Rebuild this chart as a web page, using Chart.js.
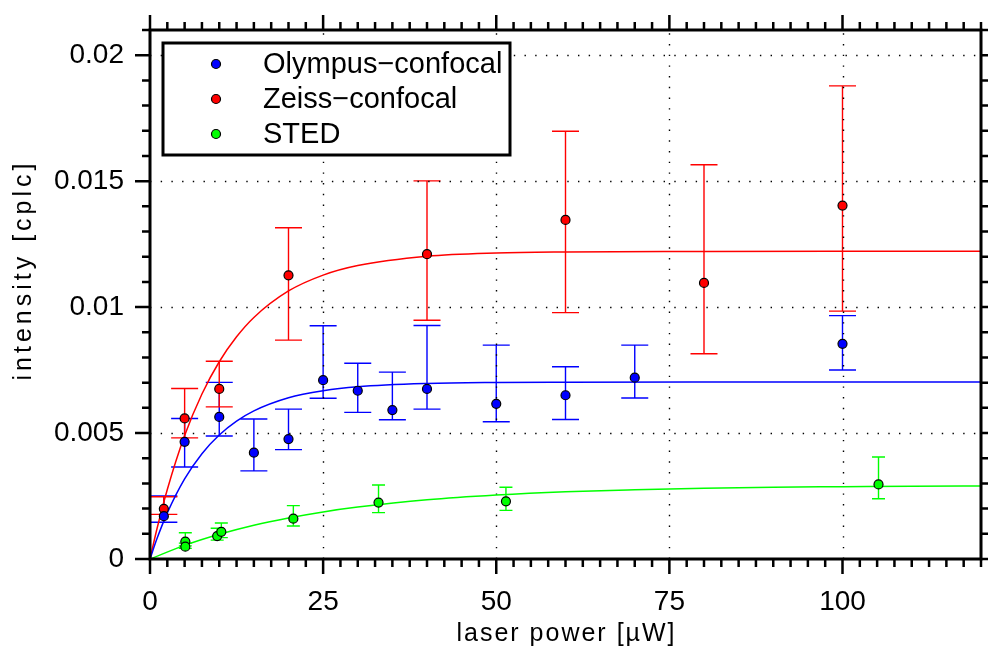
<!DOCTYPE html>
<html>
<head>
<meta charset="utf-8">
<script src="https://cdn.jsdelivr.net/npm/chart.js@4"></script>
<style>
  html, body { margin: 0; padding: 0; background: #fff; }
  #wrap { width: 988px; height: 648px; }
</style>
</head>
<body>
<div id="wrap"><canvas id="powerChart" width="988" height="648"></canvas></div>
<script>
// values
const olympusX  = [2, 5, 10, 15, 20, 25, 30, 35, 40, 50, 60, 70, 100];
const olympusY  = [0.0017, 0.00465, 0.00564, 0.00422, 0.00476, 0.0071, 0.00668, 0.00591, 0.00675, 0.00616, 0.0065, 0.0072, 0.00854];
const olympusHi = [0.0025, 0.00558, 0.00701, 0.00556, 0.00595, 0.00926, 0.00777, 0.00742, 0.00927, 0.00849, 0.00763, 0.00849, 0.00966];
const olympusLo = [0.00146, 0.00365, 0.00488, 0.0035, 0.00434, 0.00638, 0.00582, 0.00553, 0.00595, 0.00545, 0.00554, 0.00639, 0.0075];

const zeissX  = [2, 5, 10, 20, 40, 60, 80, 100];
const zeissY  = [0.00199, 0.00558, 0.00675, 0.01126, 0.0121, 0.01346, 0.01096, 0.01403];
const zeissHi = [0.00247, 0.00677, 0.00785, 0.01315, 0.01501, 0.01698, 0.01565, 0.01878];
const zeissLo = [0.00177, 0.00481, 0.00604, 0.00869, 0.00948, 0.00978, 0.00815, 0.00984];

const stedX  = [5.1, 5.1, 9.7, 10.3, 20.7, 33, 51.4, 105.2];
const stedY  = [0.00069, 0.00049, 0.00091, 0.00108, 0.0016, 0.00224, 0.00229, 0.00296];
const stedHi = [0.00104, 0.00063, 0.00122, 0.00143, 0.00212, 0.00294, 0.00285, 0.00405];
const stedLo = [0.00052, 0.00042, 0.00075, 0.00085, 0.00131, 0.00184, 0.00193, 0.00239];

// saturation fit curves
const olympusFitX = [0, 1, 2.5, 5, 7.5, 10, 12.5, 15, 20, 25, 30, 40, 50, 60, 80, 100, 120];
const olympusFitY = [0, 0.0008, 0.00183, 0.00318, 0.00418, 0.00492, 0.00547, 0.00588, 0.0064, 0.00668, 0.00684, 0.00697, 0.00701, 0.00702, 0.00703, 0.00703, 0.00703];
const zeissFitX = [0, 1, 2.5, 5, 7.5, 10, 12.5, 15, 20, 25, 30, 40, 50, 60, 80, 100, 120];
const zeissFitY = [0, 0.00119, 0.00276, 0.0049, 0.00655, 0.00783, 0.00882, 0.00959, 0.01064, 0.01127, 0.01165, 0.01202, 0.01215, 0.01219, 0.01221, 0.01222, 0.01222];
const stedFitX = [0, 5, 10, 15, 20, 25, 30, 40, 50, 60, 70, 80, 90, 100, 110, 120];
const stedFitY = [0, 0.00054, 0.00098, 0.00134, 0.00163, 0.00187, 0.00206, 0.00235, 0.00254, 0.00267, 0.00275, 0.00281, 0.00285, 0.00287, 0.00289, 0.0029];

const xTicks = [0, 25, 50, 75, 100];
const yTicks = [0, 0.005, 0.01, 0.015, 0.02];
const yTickLabels = ['0', '0.005', '0.01', '0.015', '0.02'];

const xTitle = 'laser power [\u00b5W]';
const yTitle = 'intensity [cplc]';
const seriesNames = ['Olympus\u2212confocal', 'Zeiss\u2212confocal', 'STED'];
const seriesColors = ['#0000ff', '#ff0000', '#00ff00'];

const FONT = "'Liberation Sans', Arial, sans-serif";

function pts(xs, ys) {
    return xs.map((x, i) => ({ x: x, y: ys[i] }));
}

/**
 * Error bars, drawn under the markers
 */
const errorBars = {
    id: 'errorBars',
    beforeDatasetsDraw(chart) {
        const ctx = chart.ctx;
        const xs = chart.scales.x, ys = chart.scales.y;
        const groups = [
            { x: olympusX, hi: olympusHi, lo: olympusLo, color: seriesColors[0], cap: 13.5 },
            { x: zeissX, hi: zeissHi, lo: zeissLo, color: seriesColors[1], cap: 13.5 },
            { x: stedX, hi: stedHi, lo: stedLo, color: seriesColors[2], cap: 6.5 }
        ];
        ctx.save();
        groups.forEach(g => {
            ctx.strokeStyle = g.color;
            ctx.lineWidth = 1.4;
            g.x.forEach((xv, i) => {
                const px = xs.getPixelForValue(xv);
                const top = ys.getPixelForValue(g.hi[i]);
                const bot = ys.getPixelForValue(g.lo[i]);
                ctx.beginPath();
                ctx.moveTo(px, top); ctx.lineTo(px, bot);
                ctx.moveTo(px - g.cap, top); ctx.lineTo(px + g.cap, top);
                ctx.moveTo(px - g.cap, bot); ctx.lineTo(px + g.cap, bot);
                ctx.stroke();
            });
        });
        ctx.restore();
    }
};

/**
 * Dotted grid, heavy frame with ticks on all four sides,
 * spaced-out axis titles and the boxed legend
 */
const frameAndLegend = {
    id: 'frameAndLegend',
    beforeDatasetsDraw(chart) {
        const ctx = chart.ctx;
        const a = chart.chartArea;
        const xs = chart.scales.x, ys = chart.scales.y;
        ctx.save();
        ctx.strokeStyle = '#000';
        ctx.lineWidth = 1.4;
        ctx.setLineDash([1.4, 9.3]);
        xTicks.forEach(v => {
            if (v === 0) return;
            const px = Math.round(xs.getPixelForValue(v)) + 0.5;
            ctx.beginPath(); ctx.moveTo(px, a.bottom); ctx.lineTo(px, a.top); ctx.stroke();
        });
        yTicks.forEach(v => {
            if (v === 0) return;
            const py = Math.round(ys.getPixelForValue(v)) + 0.5;
            ctx.beginPath(); ctx.moveTo(a.left, py); ctx.lineTo(a.right, py); ctx.stroke();
        });
        ctx.restore();
    },
    afterDraw(chart) {
        const ctx = chart.ctx;
        const a = chart.chartArea;
        const xs = chart.scales.x, ys = chart.scales.y;
        ctx.save();
        ctx.strokeStyle = '#000';

        // ticks
        ctx.lineWidth = 2.5;
        for (let k = 0; k <= 48; k++) {
            const px = xs.getPixelForValue(k * 2.5);
            const len = (k % 10 === 0) ? 15 : 8;
            ctx.beginPath();
            ctx.moveTo(px, a.bottom); ctx.lineTo(px, a.bottom + len);
            ctx.moveTo(px, a.top); ctx.lineTo(px, a.top - len);
            ctx.stroke();
        }
        for (let k = 0; k <= 21; k++) {
            const py = ys.getPixelForValue(k * 0.001);
            const len = (k % 5 === 0) ? 15 : 8;
            ctx.beginPath();
            ctx.moveTo(a.left, py); ctx.lineTo(a.left - len, py);
            ctx.moveTo(a.right, py); ctx.lineTo(a.right + len, py);
            ctx.stroke();
        }

        // frame
        ctx.lineWidth = 3;
        ctx.strokeRect(a.left, a.top, a.right - a.left, a.bottom - a.top);

        // axis titles
        ctx.fillStyle = '#000';
        ctx.font = '25px ' + FONT;
        ctx.textAlign = 'center';
        ctx.textBaseline = 'alphabetic';
        ctx.letterSpacing = '2px';
        ctx.fillText(xTitle, (a.left + a.right) / 2 + 1, 641);
        ctx.save();
        ctx.translate(31, 272);
        ctx.rotate(-Math.PI / 2);
        ctx.letterSpacing = '4px';
        ctx.fillText(yTitle, 2, 0);
        ctx.restore();
        ctx.letterSpacing = '0px';

        // legend
        ctx.fillStyle = '#fff';
        ctx.fillRect(163, 43, 347, 112);
        ctx.lineWidth = 3;
        ctx.strokeRect(163, 43, 347, 112);
        ctx.font = '29px ' + FONT;
        ctx.textBaseline = 'middle';
        ctx.textAlign = 'left';
        seriesNames.forEach((name, i) => {
            const cy = 64 + i * 35;
            ctx.beginPath();
            ctx.arc(216, cy, 4.5, 0, Math.PI * 2);
            ctx.fillStyle = seriesColors[i];
            ctx.fill();
            ctx.lineWidth = 1.2;
            ctx.stroke();
            ctx.fillStyle = '#000';
            ctx.fillText(name, 263, cy + 1);
        });
        ctx.restore();
    }
};

function markerSet(label, xs, ys, color) {
    return {
        type: 'scatter',
        label: label,
        data: pts(xs, ys),
        backgroundColor: color,
        borderColor: '#000',
        pointRadius: 4.5,
        pointBorderWidth: 1.2,
        pointHoverRadius: 4.5,
        order: 0
    };
}

function fitSet(xs, ys, color) {
    return {
        type: 'line',
        data: pts(xs, ys),
        borderColor: color,
        borderWidth: 1.5,
        pointRadius: 0,
        fill: false,
        cubicInterpolationMode: 'monotone',
        order: 1
    };
}

const ctx = document.getElementById('powerChart').getContext('2d');
new Chart(ctx, {
    type: 'scatter',
    data: {
        datasets: [
            fitSet(olympusFitX, olympusFitY, seriesColors[0]),
            fitSet(zeissFitX, zeissFitY, seriesColors[1]),
            fitSet(stedFitX, stedFitY, seriesColors[2]),
            markerSet(seriesNames[0], olympusX, olympusY, seriesColors[0]),
            markerSet(seriesNames[1], zeissX, zeissY, seriesColors[1]),
            markerSet(seriesNames[2], stedX, stedY, seriesColors[2])
        ]
    },
    options: {
        responsive: false,
        animation: false,
        events: [],
        layout: { padding: { top: 30, right: 7, left: 0, bottom: 0 } },
        plugins: {
            legend: { display: false },
            tooltip: { enabled: false }
        },
        scales: {
            x: {
                type: 'linear',
                min: 0,
                max: 120,
                afterBuildTicks: scale => { scale.ticks = xTicks.map(v => ({ value: v })); },
                afterFit: scale => {
                    scale.height = 89;
                    scale.paddingLeft = 0;
                    scale.paddingRight = 0;
                },
                grid: { display: false, drawTicks: false },
                border: { display: false },
                ticks: {
                    color: '#000',
                    font: { family: FONT, size: 28 },
                    padding: 26,
                    maxRotation: 0,
                    callback: v => String(v)
                }
            },
            y: {
                type: 'linear',
                min: 0,
                max: 0.021,
                afterBuildTicks: scale => { scale.ticks = yTicks.map(v => ({ value: v })); },
                afterFit: scale => {
                    scale.width = 150;
                    scale.paddingTop = 0;
                    scale.paddingBottom = 0;
                },
                grid: { display: false, drawTicks: false },
                border: { display: false },
                ticks: {
                    color: '#000',
                    font: { family: FONT, size: 28 },
                    padding: 26,
                    callback: (v) => {
                        const i = yTicks.indexOf(v);
                        return i >= 0 ? yTickLabels[i] : '';
                    }
                }
            }
        }
    },
    plugins: [errorBars, frameAndLegend]
});
</script>
</body>
</html>
